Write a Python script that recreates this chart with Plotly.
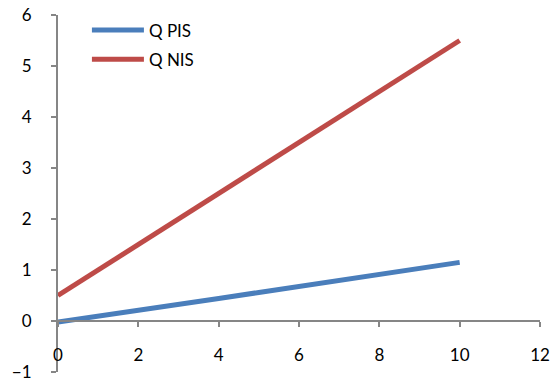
import plotly.graph_objects as go

x_vals = [0, 1, 2, 3, 4, 5, 6, 7, 8, 9, 10]
q_pis = [-0.02, 0.09, 0.2, 0.32, 0.44, 0.56, 0.68, 0.8, 0.92, 1.03, 1.15]
q_nis = [0.5, 1.0, 1.5, 2.0, 2.5, 3.0, 3.5, 4.0, 4.5, 5.0, 5.5]

x_ticks = [0, 2, 4, 6, 8, 10, 12]
y_ticks = [-1, 0, 1, 2, 3, 4, 5, 6]

axis_color = "#868686"
font = dict(family="Lato, Open Sans, sans-serif", size=17, color="#000000")

fig = go.Figure()
fig.add_trace(go.Scatter(x=x_vals, y=q_pis, mode="lines", name="Q PIS",
                         legendgroup="pis",
                         line=dict(color="#4A7EBB", width=5)))
fig.add_trace(go.Scatter(x=x_vals, y=q_nis, mode="lines", name="Q NIS",
                         legendgroup="nis",
                         line=dict(color="#BE4B48", width=5)))

y_min, y_max = -1, 6
fig.update_layout(
    width=559, height=382,
    margin=dict(l=58, r=19, t=15, b=10),
    paper_bgcolor="white", plot_bgcolor="white",
    font=font,
    showlegend=True,
    legend=dict(x=0.06, y=1.007, xanchor="left", yanchor="top",
                bgcolor="rgba(0,0,0,0)", font=dict(size=17),
                tracegroupgap=4, itemwidth=52),
    xaxis=dict(range=[0, 12], tickvals=x_ticks, showgrid=False, zeroline=False,
               showline=True, linecolor=axis_color, linewidth=2,
               ticks="outside", ticklen=5, tickcolor=axis_color, tickwidth=2,
               anchor="free", position=(0 - y_min) / (y_max - y_min),
               ticklabelstandoff=14, automargin=False),
    yaxis=dict(range=[y_min, y_max], tickvals=y_ticks, showgrid=False, zeroline=False,
               showline=True, linecolor=axis_color, linewidth=2,
               ticks="outside", ticklen=5, tickcolor=axis_color, tickwidth=2,
               ticklabelstandoff=16, automargin=False),
)

fig.write_html("out.html")
